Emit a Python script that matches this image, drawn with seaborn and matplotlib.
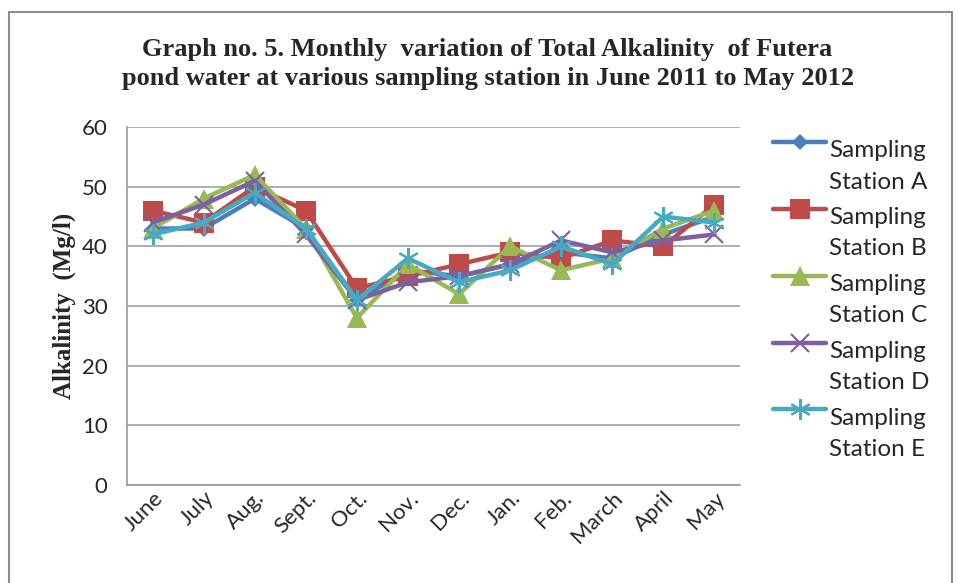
import numpy as np
import pandas as pd
import matplotlib
matplotlib.use("Agg")
import matplotlib.pyplot as plt
import seaborn as sns
from matplotlib.patches import Rectangle
from matplotlib.lines import Line2D
from matplotlib.legend_handler import HandlerLine2D

months = ["June", "July", "Aug.", "Sept.", "Oct.", "Nov.", "Dec.", "Jan.",
          "Feb.", "March", "April", "May"]

station_a = [43, 43, 48, 43, 31, 36, 35, 37, 39, 38, 42, 45]
station_b = [46, 44, 50, 46, 33, 35, 37, 39, 38, 41, 40, 47]
station_c = [43, 48, 52, 43, 28, 37, 32, 40, 36, 38, 43, 46]
station_d = [44, 47, 51, 42, 31, 34, 35, 37, 41, 39, 41, 42]
station_e = [42, 44, 49, 43, 31, 38, 34, 36, 40, 37, 45, 44]

labels = ["Sampling\nStation A", "Sampling\nStation B", "Sampling\nStation C",
          "Sampling\nStation D", "Sampling\nStation E"]
colors = ["#4A7EBB", "#BE4B48", "#98B954", "#7D60A0", "#46AAC5"]
markers = ["D", "s", "^", "x", (6, 2, 0)]
msizes = [8, 14, 14, 13, 15]


class ShiftedLine(HandlerLine2D):
    """put the legend line next to the first line of a two-line label"""
    def create_artists(self, legend, orig_handle, xdescent, ydescent,
                       width, height, fontsize, trans):
        arts = super().create_artists(legend, orig_handle, xdescent, ydescent,
                                      width, height, fontsize, trans)
        for a in arts:
            a.set_ydata(np.asarray(a.get_ydata()) + fontsize * 1.0)
        return arts


sns.set_style("white")
plt.rcParams['font.family'] = ['Lato', 'DejaVu Sans']

fig = plt.figure(figsize=(9.58, 5.83), dpi=100)
ax = fig.add_axes([0.1326, 0.168, 0.6398, 0.614])

series = [station_a, station_b, station_c, station_d, station_e]
for vals, lab, col, mk, ms in zip(series, labels, colors, markers, msizes):
    df = pd.DataFrame({"month": months, "value": vals})
    sns.lineplot(data=df, x="month", y="value", ax=ax, sort=False, color=col,
                 linewidth=3.2, marker=mk, markersize=ms,
                 markeredgecolor=col, markeredgewidth=1.5 if mk in ("x", (6, 2, 0)) else 0,
                 label=lab)

ax.set_ylim(0, 60)
ax.set_yticks(range(0, 61, 10))
ax.set_xlim(-0.5, len(months) - 0.5)
ax.yaxis.grid(True, color="#A0A0A0", linewidth=1.2)
ax.set_axisbelow(True)
for s in ["top", "right"]:
    ax.spines[s].set_visible(False)
for s in ["left", "bottom"]:
    ax.spines[s].set_color("#9A9A9A")
    ax.spines[s].set_linewidth(1.2)
ax.tick_params(axis="y", labelsize=16, length=0, pad=14)
ax.tick_params(axis="x", labelsize=16, length=0, pad=2)
plt.setp(ax.get_xticklabels(), rotation=45, ha="right", rotation_mode="anchor")
ax.set_xlabel("")
ax.set_ylabel("Alkalinity  (Mg/l)", family="Liberation Serif", fontweight="bold",
              fontsize=18, labelpad=4)

fig.text(0.509, 0.890, "Graph no. 5. Monthly  variation of Total Alkalinity  of Futera\n"
         "pond water at various sampling station in June 2011 to May 2012",
         ha="center", va="center", family="Liberation Serif", fontweight="bold",
         fontsize=19, linespacing=1.32)

handles, labs = ax.get_legend_handles_labels()
leg = ax.legend(handles, labs, loc="upper left", bbox_to_anchor=(1.038, 0.99),
                frameon=False, fontsize=17.5, handlelength=2.2, handletextpad=0.1,
                labelspacing=0.6, borderaxespad=0,
                handler_map={Line2D: ShiftedLine()})
for t in leg.get_texts():
    t.set_linespacing(1.6)
for line in leg.get_lines():
    line.set_linewidth(3.2)

fig.patches.append(Rectangle((0.009, -0.1), 0.985, 1.079, transform=fig.transFigure,
                             fill=False, edgecolor="#8C8C8C", linewidth=1.5))

fig.savefig("out.png", dpi=100)
